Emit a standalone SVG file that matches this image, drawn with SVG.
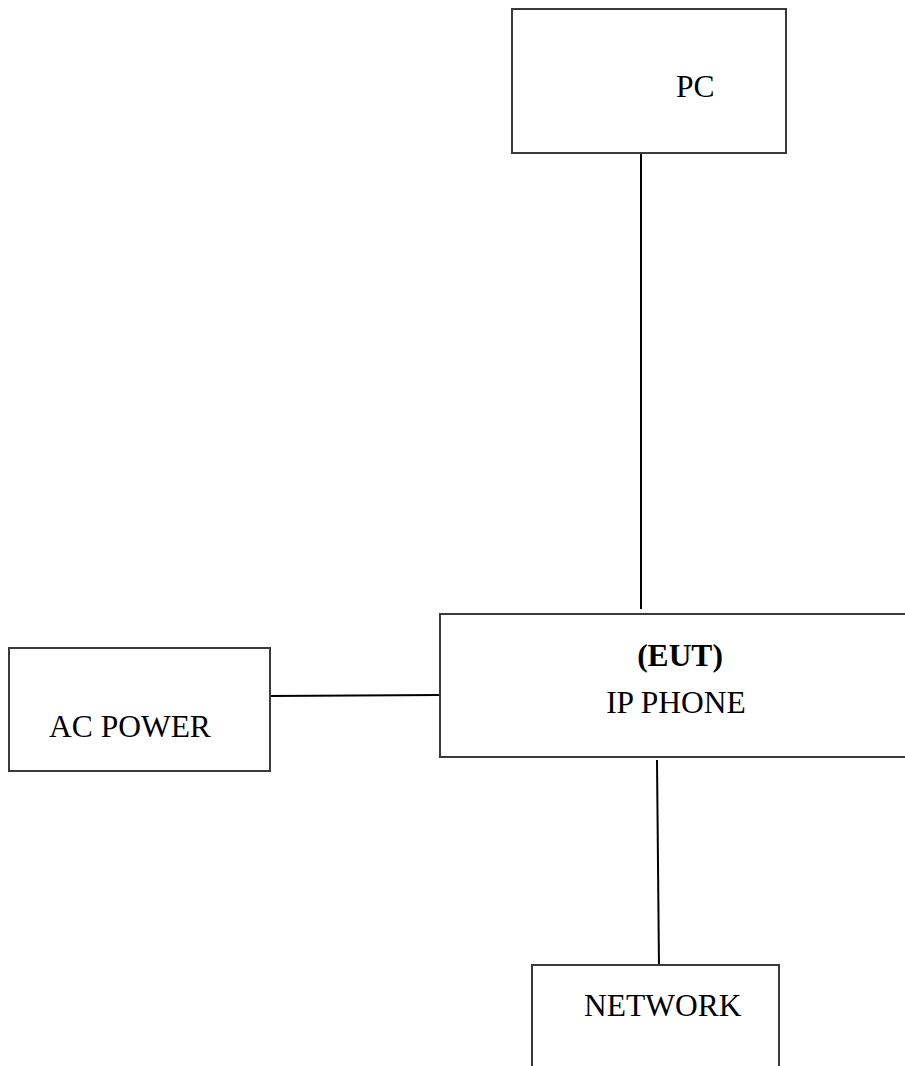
<svg xmlns="http://www.w3.org/2000/svg" width="905" height="1066" viewBox="0 0 905 1066">
<style>
.box{fill:#fff;stroke:#3a3a3a;stroke-width:2}
.lbl{font-family:"Liberation Serif","Times New Roman",serif;font-size:31.5px;fill:#000}
.b{font-weight:bold}
.conn{stroke:#000;stroke-width:2;fill:none}
</style>
<rect width="905" height="1066" fill="#fff"/>
<g id="connectors">
<line class="conn" x1="641" y1="153" x2="641" y2="609"/>
<line class="conn" x1="270" y1="696" x2="440" y2="695"/>
<line class="conn" x1="657" y1="760" x2="659" y2="967"/>
</g>
<g id="pc">
<rect class="box" x="512" y="9" width="274" height="144"/>
<text class="lbl" x="676" y="97">PC</text>
</g>
<g id="ip-phone">
<rect class="box" x="440" y="614" width="480" height="143"/>
<text class="lbl b" x="680" y="666" text-anchor="middle">(EUT)</text>
<text class="lbl" x="676" y="713" text-anchor="middle">IP PHONE</text>
</g>
<g id="ac-power">
<rect class="box" x="9" y="648" width="261" height="123"/>
<text class="lbl" x="49" y="737">AC POWER</text>
</g>
<g id="network">
<rect class="box" x="532" y="965" width="247" height="120"/>
<text class="lbl" x="584" y="1016">NETWORK</text>
</g>
</svg>
